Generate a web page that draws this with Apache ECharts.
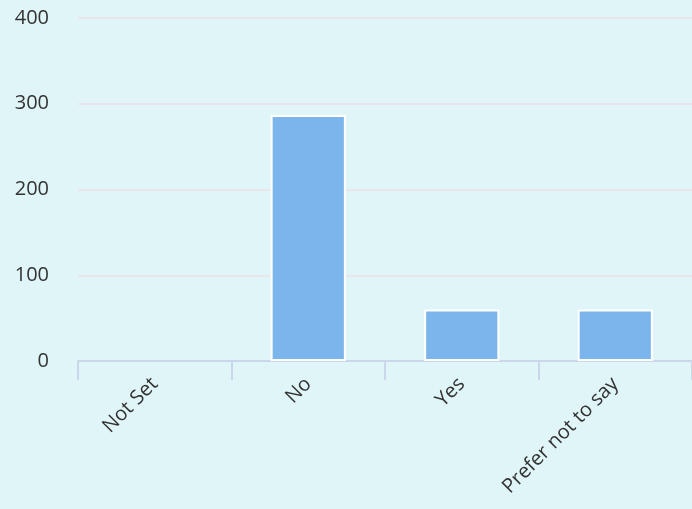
<!DOCTYPE html>
<html lang="en">
<head>
    <meta charset="UTF-8">
    <title>Chart</title>
    <script src="https://cdn.jsdelivr.net/npm/echarts@6/dist/echarts.min.js"></script>
    <style>
        html, body { margin: 0; padding: 0; background: #dff5f8; }
    </style>
</head>
<body>
<div id="main" style="width: 692px;height:509px;"></div>
<script>
    // values
    const categories = ['Not Set', 'No', 'Yes', 'Prefer not to say'];
    const counts = [0, 287, 60, 60];
    const yTicks = [0, 100, 200, 300, 400];

    let chart = echarts.init(document.getElementById('main'));

    // a zero bar should leave no white border line on the axis
    let barData = counts.map(function (v) {
        return v === 0 ? { value: v, itemStyle: { borderWidth: 0 } } : v;
    });

    let option = {
        backgroundColor: '#dff5f8',
        animation: false,
        grid: {
            left: 78,
            right: -4,
            top: 18,
            bottom: 148
        },
        xAxis: {
            type: 'category',
            data: categories,
            axisLine: { lineStyle: { color: '#ccd6eb', width: 2 } },
            axisTick: { show: true, length: 19, lineStyle: { color: '#ccd6eb', width: 2 } },
            axisLabel: {
                rotate: 45,
                margin: 20,
                color: '#333',
                fontFamily: 'Open Sans',
                fontSize: 20
            }
        },
        yAxis: {
            type: 'value',
            min: yTicks[0],
            max: yTicks[yTicks.length - 1],
            interval: 100,
            axisLine: { show: false },
            axisTick: { show: false },
            splitLine: { lineStyle: { color: '#e8e6ea', width: 2 } },
            axisLabel: {
                margin: 29,
                color: '#333',
                fontFamily: 'Open Sans',
                fontSize: 20
            }
        },
        series: [
            {
                type: 'bar',
                data: barData,
                barWidth: '49%',
                itemStyle: {
                    color: '#7cb5ec',
                    borderColor: '#ffffff',
                    borderWidth: 2
                }
            }
        ]
    };
    chart.setOption(option);
</script>
</body>
</html>
